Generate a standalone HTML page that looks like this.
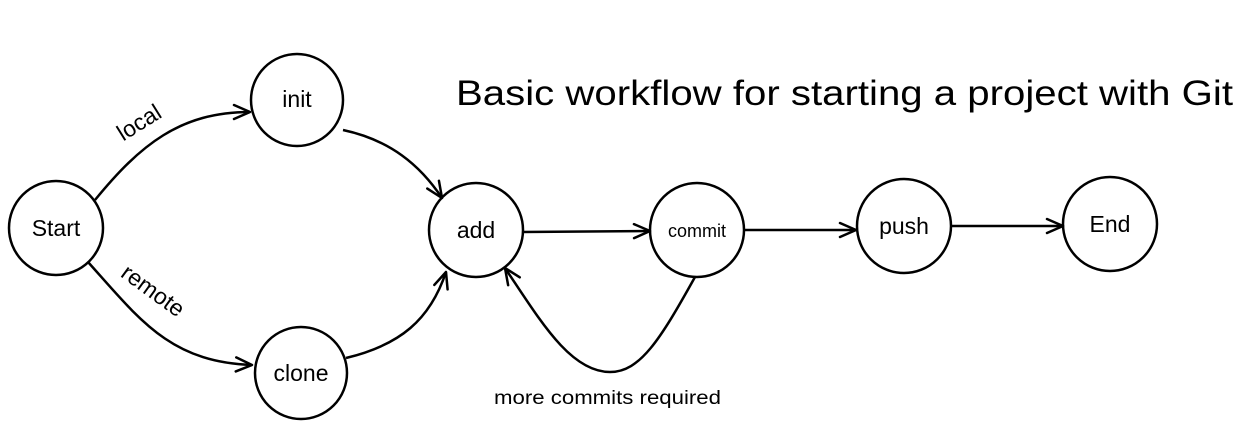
<!DOCTYPE html>
<html><head><meta charset="utf-8"><style>
html,body{margin:0;padding:0;background:#fff;}
svg{display:block;font-family:"Liberation Sans",sans-serif;}
</style></head><body>
<svg width="1257" height="445" viewBox="0 0 1257 445" xmlns="http://www.w3.org/2000/svg">
<defs>
<marker id="a" viewBox="0 0 20 20" refX="18" refY="10" markerWidth="20" markerHeight="20" markerUnits="userSpaceOnUse" orient="auto">
<path d="M2,3 L18,10 L2,17" fill="none" stroke="#000" stroke-width="2.5" stroke-linecap="round" stroke-linejoin="round"/>
</marker>
</defs>
<g fill="none" stroke="#000" stroke-width="2.5">
<circle cx="56" cy="228" r="47"/>
<circle cx="297" cy="100" r="46"/>
<circle cx="301" cy="373" r="46"/>
<circle cx="476" cy="230" r="47"/>
<circle cx="697" cy="230" r="47"/>
<circle cx="904" cy="226" r="47"/>
<circle cx="1110" cy="224" r="47"/>
<path d="M95,200 C140,145 180,112 250,112" marker-end="url(#a)"/>
<path d="M88,262 C140,320 170,362 252,365" marker-end="url(#a)"/>
<path d="M343,130 C390,140 420,165 442,198" marker-end="url(#a)"/>
<path d="M346,358 C400,345 430,320 446,272" marker-end="url(#a)"/>
<path d="M522,232 L650,231" marker-end="url(#a)"/>
<path d="M744,230 L856,230" marker-end="url(#a)"/>
<path d="M950,226 L1063,226" marker-end="url(#a)"/>
<path d="M695,277 C660,340 640,372 610,372 C570,372 540,320 505,268" marker-end="url(#a)"/>
</g>
<g font-size="23" text-anchor="middle" fill="#000">
<text x="56" y="236">Start</text>
<text x="297" y="107">init</text>
<text x="301" y="381">clone</text>
<text x="476" y="238">add</text>
<text x="697" y="237" font-size="18">commit</text>
<text x="904" y="234">push</text>
<text x="1110" y="232">End</text>
<text x="140" y="130" transform="rotate(-32 140 124)">local</text>
<text x="152" y="298" transform="rotate(36 152 292)">remote</text>
</g>
<text x="494" y="404" font-size="19" textLength="227" lengthAdjust="spacingAndGlyphs">more commits required</text>
<text x="456" y="105" font-size="35.5" textLength="777" lengthAdjust="spacingAndGlyphs">Basic workflow for starting a project with Git</text>
</svg>
</body></html>
